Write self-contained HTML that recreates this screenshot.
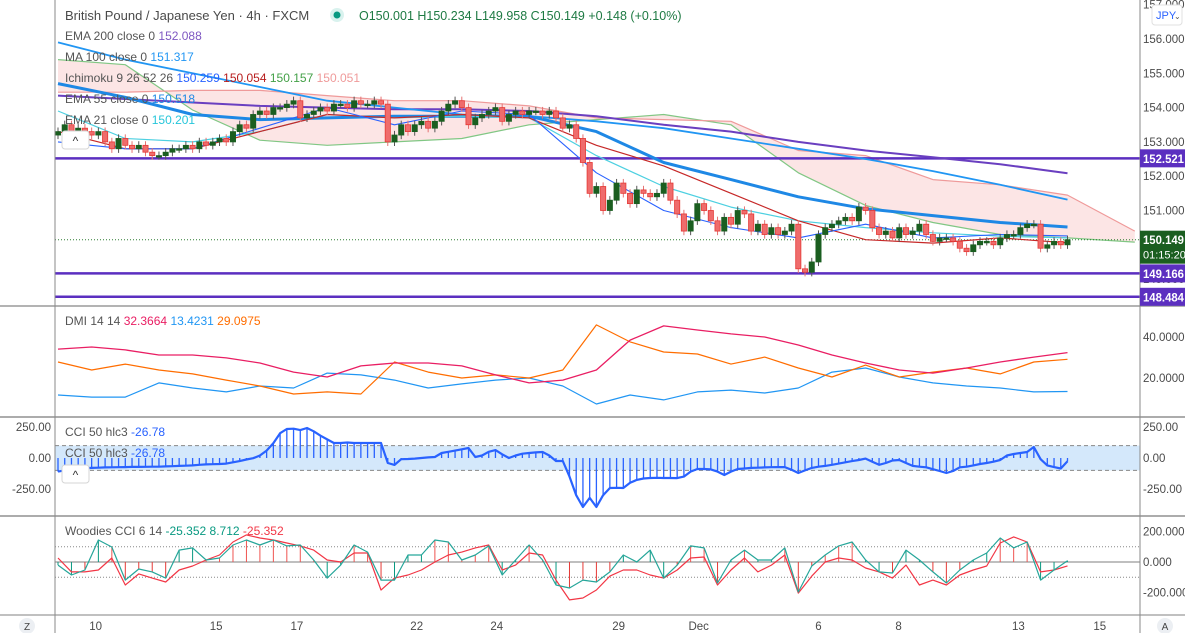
<!DOCTYPE html>
<html><head><meta charset="utf-8">
<style>
html,body{margin:0;padding:0;background:#fff;}
body{width:1185px;height:633px;overflow:hidden;font-family:"Liberation Sans",sans-serif;}
svg{display:block;}
text{font-family:"Liberation Sans",sans-serif;}
</style></head>
<body>
<svg id="chart" width="1185" height="633" viewBox="0 0 1185 633" xmlns="http://www.w3.org/2000/svg">
<defs>
<clipPath id="mainClip"><rect x="55" y="0" width="1085" height="306"/></clipPath>
<clipPath id="dmiClip"><rect x="55" y="307" width="1085" height="110"/></clipPath>
<clipPath id="cciClip"><rect x="55" y="418" width="1085" height="98"/></clipPath>
<clipPath id="wClip"><rect x="55" y="517" width="1085" height="98"/></clipPath>
</defs>
<rect x="0" y="0" width="1185" height="633" fill="#fff"/>
<g id="main" clip-path="url(#mainClip)"></g>
<g id="dmi" clip-path="url(#dmiClip)"></g>
<g id="cci" clip-path="url(#cciClip)"></g>
<g id="woodies" clip-path="url(#wClip)"></g>
<g id="axes">
<line x1="0" y1="306" x2="1185" y2="306" stroke="#9a9a9a" stroke-width="1.5"/>
<line x1="0" y1="417" x2="1185" y2="417" stroke="#7a7a7a" stroke-width="1.2"/>
<line x1="0" y1="516" x2="1185" y2="516" stroke="#7a7a7a" stroke-width="1.2"/>
<line x1="0" y1="615" x2="1185" y2="615" stroke="#9a9a9a" stroke-width="1.2"/>
<line x1="55" y1="0" x2="55" y2="633" stroke="#8a8a8a" stroke-width="1"/>
<line x1="1140" y1="0" x2="1140" y2="633" stroke="#8a8a8a" stroke-width="1"/>
</g>
<g id="labels"></g>
<g font-size="13">
<text x="65" y="20" fill="#4a4a4a">British Pound / Japanese Yen · 4h · FXCM</text>
<circle cx="337" cy="15" r="7" fill="#d9f2ee"/>
<circle cx="337" cy="15" r="3.5" fill="#089981"/>
<text x="359" y="20" fill="#1e7a43" font-size="12.5">O150.001  H150.234  L149.958  C150.149  +0.148 (+0.10%)</text>
<g font-size="12">
<text x="65" y="40" fill="#555">EMA 200 close 0 <tspan fill="#7e57c2">152.088</tspan></text>
<text x="65" y="61" fill="#555">MA 100 close 0 <tspan fill="#2196f3">151.317</tspan></text>
<text x="65" y="82" fill="#555">Ichimoku 9 26 52 26 <tspan fill="#2962ff">150.259</tspan> <tspan fill="#b71c1c">150.054</tspan> <tspan fill="#43a047">150.157</tspan> <tspan fill="#ef9a9a">150.051</tspan></text>
<text x="65" y="103" fill="#555">EMA 55 close 0 <tspan fill="#1e88e5">150.518</tspan></text>
<text x="65" y="124" fill="#555">EMA 21 close 0 <tspan fill="#26c6da">150.201</tspan></text>
<text x="65" y="325" fill="#555">DMI 14 14 <tspan fill="#e91e63">32.3664</tspan> <tspan fill="#2196f3">13.4231</tspan> <tspan fill="#ff6d00">29.0975</tspan></text>
<text x="65" y="436" fill="#555">CCI 50 hlc3 <tspan fill="#2962ff">-26.78</tspan></text>
<text x="65" y="457" fill="#555">CCI 50 hlc3 <tspan fill="#2962ff">-26.78</tspan></text>
<text x="65" y="535" fill="#555">Woodies CCI 6 14 <tspan fill="#089981">-25.352</tspan> <tspan fill="#089981">8.712</tspan> <tspan fill="#f23645">-25.352</tspan></text>
</g>
<rect x="62" y="131" width="27" height="18" rx="3" fill="#fff" stroke="#d6d6d6"/>
<text x="75.5" y="145" font-size="12" text-anchor="middle" fill="#333">^</text>
<rect x="62" y="465" width="27" height="18" rx="3" fill="#fff" stroke="#d6d6d6"/>
<text x="75.5" y="479" font-size="12" text-anchor="middle" fill="#333">^</text>
<rect x="1152" y="5" width="30" height="20" rx="3" fill="#fff" stroke="#e0e0e0"/>
<text x="1156" y="19" font-size="11" fill="#2962ff">JPY</text>
<text x="1174" y="19" font-size="8" fill="#555">⌄</text>
<circle cx="27" cy="626" r="8" fill="#eceff3"/>
<text x="27" y="630" font-size="10" text-anchor="middle" fill="#444">Z</text>
<circle cx="1165" cy="626" r="8" fill="#eceff3"/>
<text x="1165" y="630" font-size="10" text-anchor="middle" fill="#444">A</text>
</g>
</svg>
<script>
// ---------- DATA ----------
const closes = [153.3,153.5,153.2,153.4,153.3,153.2,
153.3,153.0,152.8,153.1,152.9,
152.8,152.9,152.7,152.6,152.6,152.7,152.8,152.8,
152.9,152.8,153.0,152.9,153.0,153.1,153.0,
153.3,153.5,153.4,153.8,153.9,153.8,154.0,
154.0,154.1,154.2,153.7,153.8,153.9,
154.0,153.9,154.1,154.1,154.0,154.2,154.1,154.1,154.2,154.1,
153.0,
153.2,153.5,153.3,153.5,153.6,153.4,153.6,153.9,
154.1,154.2,154.0,153.5,153.7,
153.8,153.9,154.0,153.6,153.8,153.9,153.8,153.9,153.9,153.8,153.9,
153.7,153.4,153.5,153.1,
152.4,151.5,151.7,
151.0,151.3,151.8,151.5,151.2,151.6,151.5,
151.4,151.5,151.8,151.3,150.9,150.4,150.7,
151.2,151.0,150.7,150.4,150.8,150.6,151.0,
150.9,150.4,150.6,150.3,150.5,150.3,150.4,150.6,
149.3,149.2,149.5,
150.3,150.5,150.6,150.7,150.8,
150.7,151.1,151.0,
150.5,150.3,150.4,150.2,150.5,150.3,150.4,150.6,150.3,
150.1,150.2,150.2,150.1,149.9,149.8,150.0,
150.1,150.1,150.0,150.2,150.3,150.3,150.5,
150.6,150.6,149.9,150.0,150.1,150.0,150.149];
const firstOpen = 153.2;
// overlays sampled every 10 bars (bar index = k*10)
const ema200 = [154.35,154.25,154.15,154.05,154.0,153.95,153.95,153.9,153.75,153.5,153.3,153.0,152.75,152.55,152.35,152.088];
const ma100 = [155.9,155.4,155.0,154.6,154.2,154.0,153.8,153.75,153.6,153.4,153.1,152.8,152.5,152.15,151.75,151.317];
const ema55 = [154.7,154.3,153.8,153.65,153.7,153.75,153.75,153.75,153.3,152.4,151.9,151.4,151.05,150.85,150.65,150.518];
const ema21 = [153.9,153.1,153.0,153.3,153.8,153.7,153.75,153.7,152.6,151.7,151.1,150.7,150.5,150.35,150.25,150.201];
const tenkan = [153.0,152.8,152.8,153.4,154.0,153.5,153.9,153.8,152.1,151.0,150.5,150.2,150.6,150.2,150.3,150.259];
const kijun = [153.3,152.8,152.8,153.3,153.8,153.7,153.8,153.7,152.9,152.3,151.5,150.7,150.15,150.05,150.2,150.054];
const spanA = [155.4,155.25,153.93,153.05,152.9,153.0,153.1,153.5,153.65,153.8,153.5,152.1,151.15,150.65,150.3,150.2,150.08];
const spanB = [154.45,154.45,154.5,154.5,154.35,154.2,154.2,154.05,153.7,153.65,153.6,152.75,152.6,151.9,151.75,151.45,150.4];
const levels = [152.521,149.166,148.484];
const lastPrice = 150.149;
const priceTicks = [157,156,155,154,153,152,151];
// DMI sampled every 5 bars
const adx = [34.1,35.1,33.7,31.2,31.2,29.8,27.3,22.9,20.5,25.9,27.3,27.3,25.9,21.5,17.6,19.0,23.9,38.5,45.4,43.4,41.5,40.0,36.1,31.2,27.3,23.9,22.4,24.9,27.8,30.2,32.37];
const diMinus = [27.8,23.9,26.8,23.9,22.0,19.0,16.1,12.2,13.2,12.2,27.8,22.9,20.0,21.5,20.0,23.9,45.9,37.6,32.7,31.7,26.8,30.2,24.9,20.5,26.3,20.5,22.9,24.9,22.0,27.8,29.1];
const diPlus = [11.7,10.7,10.7,17.6,15.1,13.2,16.1,15.1,22.4,21.5,19.0,15.1,17.1,19.0,20.0,16.1,7.3,11.7,9.3,13.2,14.1,12.7,15.1,22.9,24.9,20.5,17.6,16.1,15.1,13.2,13.42];
const dmiTicks = [40,20];
// CCI 50 per bar
const cci = [-110,-100,-95,-85,-82,-80,
-78,-76,-75,-74,-73,-72,-72,-71,-70,-70,
-68,-66,-64,-62,-60,-55,-52,-50,-48,-45,
-35,-25,-12,-2,
20,60,120,200,234,
236,225,242,215,180,
150,121,121,125,121,121,121,121,
121,-40,-56,
-10,-8,-5,0,5,8,40,
50,60,70,81,8,
20,50,64,30,0,20,35,40,
45,48,20,-24,-24,
-150,-300,-395,-322,-395,
-300,-242,-240,-242,-200,-177,
-165,-161,-160,-161,-161,-162,-150,
-110,-89,-89,-92,-110,-137,
-110,-89,-85,-80,-78,-76,-74,-73,-73,
-95,-121,-100,-80,-70,-64,
-55,-45,-35,-25,-16,-5,
-30,-55,-40,-20,-16,
-40,-64,-70,-75,-90,-105,-121,-105,-75,
-70,-60,-48,-40,-30,-16,20,32,
40,48,89,-10,-60,
-73,-85,-27];
const cciTicks = [250,0,-250];
// Woodies CCI sampled every 2 bars
const wCci = [-20,-85,-52,144,98,-118,-46,-65,-105,78,92,13,26,111,144,111,144,105,111,13,-105,-20,111,65,-118,-118,46,46,144,131,13,46,105,-85,13,111,13,-150,-170,-118,-131,-65,46,0,78,-105,-20,105,92,-137,13,78,13,13,92,-196,-26,46,105,131,13,-65,-72,78,13,-65,-137,-52,13,59,157,92,131,-118,-52,8.712];
const wTcci = [26,-65,-65,-52,26,-150,-78,-105,-131,-52,-26,13,46,131,177,157,144,124,105,78,13,0,59,59,-183,-105,-85,-52,0,46,65,92,111,-52,-20,59,46,-118,-248,-235,-183,-92,-52,-52,-85,-105,-52,26,33,-150,-52,26,-65,-20,46,-203,-92,0,26,13,-39,-65,-105,-20,-150,-118,-150,-85,-52,-26,124,164,131,-65,-52,-25.352];
const wTicks = [200,0,-200];
const dateLabels = ["10","15","17","22","24","29","Dec","6","8","13","15"];
const dateBars = [5.6,23.5,35.5,53.3,65.2,83.3,95.2,113,124.9,142.7,154.8];

// ---------- SCALES ----------
const NS='http://www.w3.org/2000/svg';
const xB = i => 58 + i*6.73;
const yP = p => 39 + (156-p)*34.3;
const yD = v => 337 + (40-v)*2.05;
const yC = v => 458 - v*0.124;
const yW = v => 562 - v*0.153;
function mk(tag, attrs, parent){ const e=document.createElementNS(NS,tag); for(const k in attrs) e.setAttribute(k,attrs[k]); parent.appendChild(e); return e; }
const main=document.getElementById('main'), dmi=document.getElementById('dmi'), cciG=document.getElementById('cci'), wG=document.getElementById('woodies'), lab=document.getElementById('labels');
function line(arr, step, yf, color, w, parent, name){
  const pts=arr.map((v,k)=>xB(k*step).toFixed(1)+','+yf(v).toFixed(1)).join(' ');
  const el=mk('polyline',{points:pts,fill:'none',stroke:color,'stroke-width':w,'stroke-linejoin':'round'},parent);
  
  
  return el;
}

// ---------- MAIN PANE ----------
{
  const top=spanA.map((v,k)=>xB(k*10).toFixed(1)+','+yP(v).toFixed(1));
  const bot=spanB.map((v,k)=>xB(k*10).toFixed(1)+','+yP(v).toFixed(1)).reverse();
  const c=mk('polygon',{points:top.concat(bot).join(' '),fill:'#fbdada','fill-opacity':'0.7',stroke:'none'},main);
  
  
}
line(spanA,10,yP,'#81c784',1.2,main,'senkou-span-a');
line(spanB,10,yP,'#ef9a9a',1.2,main,'senkou-span-b');
levels.forEach((lv)=>{
  const l=mk('line',{x1:55,x2:1140,y1:yP(lv),y2:yP(lv),stroke:'#5b2fc0','stroke-width':2.5},main);
  
  
});
{
  const l=mk('line',{x1:55,x2:1140,y1:yP(lastPrice),y2:yP(lastPrice),stroke:'#2e7d32','stroke-width':1,'stroke-dasharray':'1,2'},main);
  
  
}
line(ema200,10,yP,'#6a3fc0',2,main,'ema200-line');
line(ma100,10,yP,'#2196f3',1.8,main,'ma100-line');
line(ema55,10,yP,'#1e88e5',3,main,'ema55-line');
line(ema21,10,yP,'#4dd0e1',1.2,main,'ema21-line');
line(kijun,10,yP,'#c62828',1.2,main,'kijun-line');
line(tenkan,10,yP,'#2962ff',1.1,main,'tenkan-line');
closes.forEach((c,i)=>{
  const o = i===0 ? firstOpen : closes[i-1];
  const up = c>=o;
  const x=xB(i);
  const hi=Math.max(o,c)+0.12, lo=Math.min(o,c)-0.12;
  const col = up ? '#1b5e20' : '#e53935';
  const w=mk('line',{x1:x,x2:x,y1:yP(hi),y2:yP(lo),stroke:up?'#555':'#e57373','stroke-width':1},main);
  
  
  const top=yP(Math.max(o,c)), h=Math.max(1.5,Math.abs(yP(o)-yP(c)));
  const b=mk('rect',{x:x-2.6,y:top,width:5.2,height:h,fill:up?'#1b5e20':'#ef6c6c',stroke:col,'stroke-width':0.8},main);
  
  
});

// ---------- DMI ----------
line(diPlus,5,yD,'#2196f3',1.2,dmi,'di-plus-line');
line(diMinus,5,yD,'#ff6d00',1.2,dmi,'di-minus-line');
line(adx,5,yD,'#e91e63',1.3,dmi,'adx-line');

// ---------- CCI ----------
{
  const band=mk('rect',{x:55,y:yC(100),width:1085,height:yC(-100)-yC(100),fill:'#d4e8fb'},cciG);
  
  
  [100,-100].forEach(v=>{
    const d=mk('line',{x1:55,x2:1140,y1:yC(v),y2:yC(v),stroke:'#888','stroke-dasharray':'4,3','stroke-width':1},cciG);
    
    
  });
}
cci.forEach((v,i)=>{
  const h=mk('line',{x1:xB(i),x2:xB(i),y1:yC(0),y2:yC(v),stroke:'#2962ff','stroke-width':1.3},cciG);
  
  
});
line(cci,1,yC,'#2962ff',2.2,cciG,'cci-line');

// ---------- WOODIES ----------
[100,-100].forEach(v=>{
  const d=mk('line',{x1:55,x2:1140,y1:yW(v),y2:yW(v),stroke:'#888','stroke-dasharray':'1,2','stroke-width':1},wG);
  
  
});
{
  const z=mk('line',{x1:55,x2:1140,y1:yW(0),y2:yW(0),stroke:'#aaa','stroke-width':1.5},wG);
  
  
}
wCci.forEach((v,k)=>{
  const col = v>=0 ? (wTcci[k]>=0?'#ef5350':'#089981') : (wTcci[k]<v?'#e53935':'#089981');
  const h=mk('line',{x1:xB(k*2),x2:xB(k*2),y1:yW(0),y2:yW(v),stroke:col,'stroke-width':1},wG);
  
  
});
line(wTcci,2,yW,'#f23645',1.2,wG,'woodies-tcci-line');
line(wCci,2,yW,'#26a69a',1.2,wG,'woodies-cci-line');

// ---------- AXIS LABELS ----------
function txt(x,y,s,opts,name){
  const t=mk('text',Object.assign({x:x,y:y,'font-size':11.5,fill:'#4a4a4a'},opts||{}),lab);
  t.textContent=s;
  
  
  return t;
}
priceTicks.forEach(p=>txt(1143,yP(p)+4,p.toFixed(3),{},'price-tick'));
txt(1143,yP(149)+4,'149.000',{},'price-tick');
function box(p,color,s,name){
  const r=mk('rect',{x:1140,y:yP(p)-9,width:45,height:18,fill:color},lab);
  
  
  txt(1143,yP(p)+4.5,s,{fill:'#fff','font-weight':'bold','font-size':11.5,textLength:41,lengthAdjust:'spacingAndGlyphs'},name+'-text');
}
box(levels[0],'#5b2fc0',levels[0].toFixed(3),'level-label-1');
box(levels[1],'#5b2fc0',levels[1].toFixed(3),'level-label-2');
box(levels[2],'#5b2fc0',levels[2].toFixed(3),'level-label-3');
{
  const r=mk('rect',{x:1140,y:yP(lastPrice)-9,width:45,height:33,fill:'#1b5e20'},lab);
  
  
  txt(1143,yP(lastPrice)+4.5,lastPrice.toFixed(3),{fill:'#fff','font-weight':'bold',textLength:41,lengthAdjust:'spacingAndGlyphs'},'last-price-text');
  txt(1143,yP(lastPrice)+19,'01:15:20',{fill:'#fff','font-size':11},'bar-countdown');
}
dmiTicks.forEach(v=>txt(1143,yD(v)+4,v.toFixed(4),{},'dmi-tick'));
cciTicks.forEach(v=>{ txt(1143,yC(v)+4,v.toFixed(2),{},'cci-tick-right'); txt(51,yC(v)+4,v.toFixed(2),{'text-anchor':'end'},'cci-tick-left'); });
wTicks.forEach(v=>txt(1143,yW(v)+4,v.toFixed(3),{},'woodies-tick'));
dateLabels.forEach((s,k)=>txt(xB(dateBars[k]),630,s,{'text-anchor':'middle'},'date-tick'));
</script>
</body></html>
